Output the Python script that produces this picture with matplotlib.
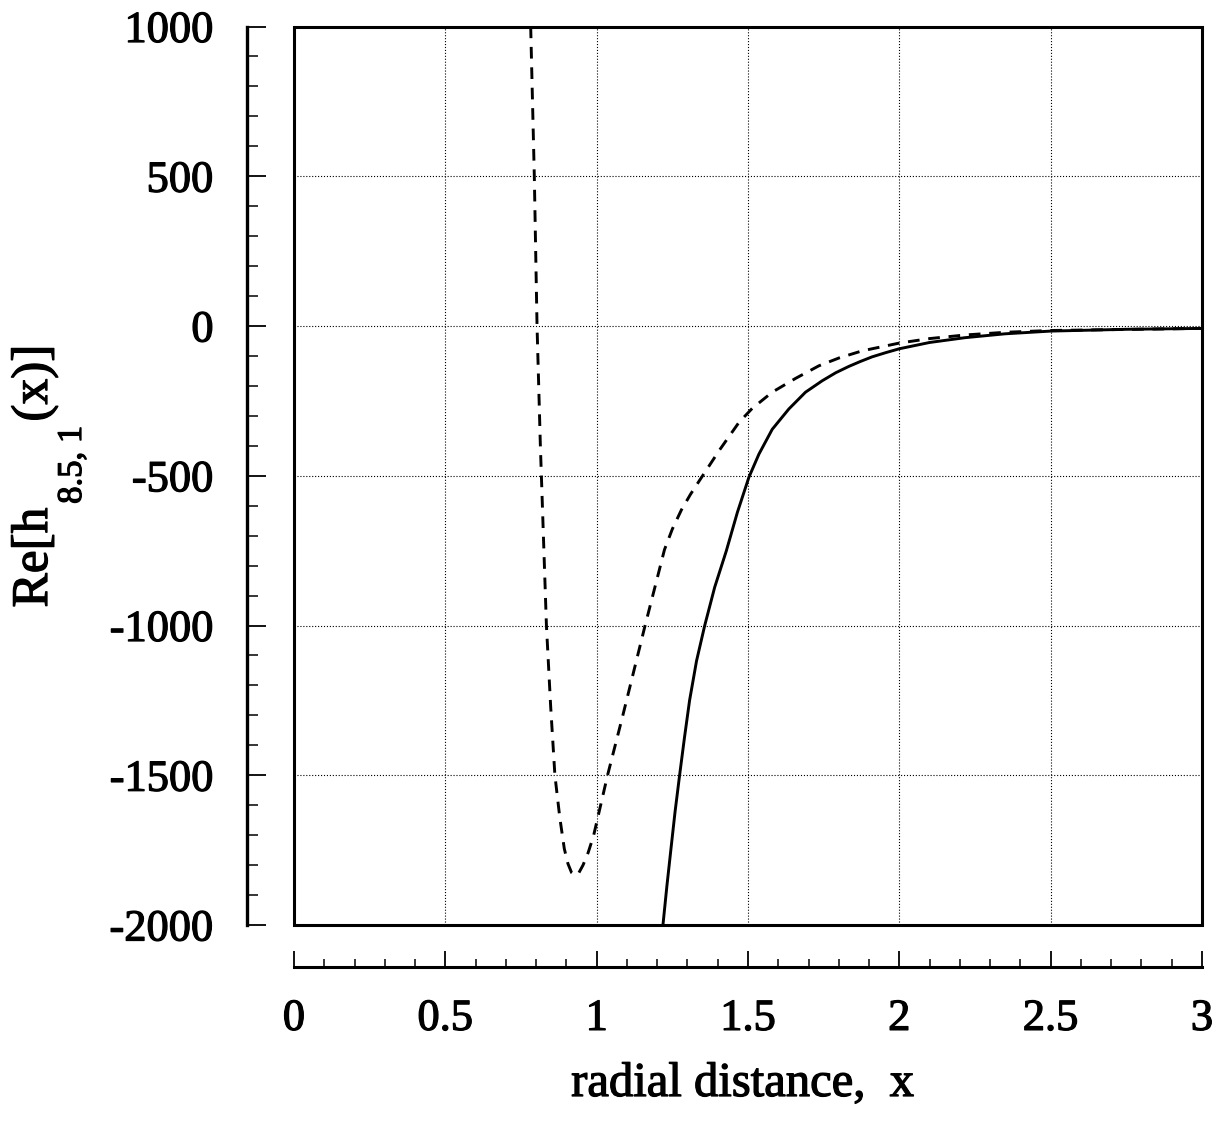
import numpy as np
import matplotlib
matplotlib.use('Agg')
import matplotlib.pyplot as plt
import matplotlib.patheffects as pe
from matplotlib.patches import Rectangle
from matplotlib.ticker import MultipleLocator

# fonts: times-like serif, regular weight thickened a little (scanned look)
plt.rc('font', family='Liberation Serif', size=32)
plt.rc('axes', unicode_minus=False)
ink = [pe.withStroke(linewidth=0.9, foreground='black')]

# solid curve
solid_x = [1.219, 1.232, 1.245, 1.259, 1.274, 1.290, 1.307, 1.330, 1.357, 1.390,
           1.428, 1.465, 1.503, 1.536, 1.580, 1.635, 1.690, 1.745, 1.790, 1.833,
           1.870, 1.910, 1.955, 2.0, 2.1, 2.217, 2.35, 2.5, 2.75, 3.0]
solid_y = [-2000, -1870, -1750, -1622, -1500, -1375, -1250, -1118, -1000, -872,
           -752, -622, -505, -428, -345, -277, -221, -183, -156, -135,
           -119, -103, -89, -76, -55, -39, -26, -17, -11, -8]

# dashed curve
dashed_x = [0.782, 0.794, 0.803, 0.814, 0.824, 0.834, 0.848, 0.862, 0.878, 0.893,
            0.905, 0.917, 0.929, 0.941, 0.955, 0.972, 0.990, 1.036, 1.086, 1.160,
            1.195, 1.224, 1.250, 1.280, 1.310, 1.339, 1.406, 1.470, 1.514, 1.580,
            1.657, 1.734, 1.800, 1.877, 2.0, 2.1, 2.217, 2.35, 2.5, 3.0]
dashed_y = [1000, 500, 0, -400, -700, -1000, -1270, -1500, -1640, -1745,
            -1795, -1825, -1834, -1826, -1800, -1758, -1701, -1500, -1302, -1000,
            -862, -747, -678, -614, -562, -517, -414, -322, -275, -221,
            -175, -133, -107, -83, -57, -42, -30, -21, -15, -8]

xticks = [0, 0.5, 1, 1.5, 2, 2.5, 3]
xtick_labels = ['0', '0.5', '1', '1.5', '2', '2.5', '3']
yticks = [-2000, -1500, -1000, -500, 0, 500, 1000]
ytick_labels = ['-2000', '-1500', '-1000', '-500', '0', '500', '1000']

W, H = 1218, 1130
fig = plt.figure(figsize=(W / 100, H / 100), dpi=100)
ax = fig.add_axes([294 / W, 1 - 925 / H, (1202 - 294) / W, (925 - 26.5) / H])

ax.plot(solid_x, solid_y, color='black', lw=2.1)
ax.plot(dashed_x, dashed_y, color='black', lw=2.1, dashes=(4, 3))

ax.set_xlim(0, 3)
ax.set_ylim(-2000, 1000)

# grid
ax.set_xticks(xticks)
ax.set_xticklabels(xtick_labels)
ax.set_yticks(yticks)
ax.set_yticklabels(ytick_labels)
ax.xaxis.set_minor_locator(MultipleLocator(0.1))
ax.yaxis.set_minor_locator(MultipleLocator(100))
ax.grid(True, which='major', color='black', linestyle=':', linewidth=0.8)

# detached axis lines
ax.spines['top'].set_visible(False)
ax.spines['right'].set_visible(False)
ax.spines['left'].set_position(('outward', 33.8))
ax.spines['bottom'].set_position(('outward', 30.2))
ax.spines['left'].set_linewidth(2.4)
ax.spines['bottom'].set_linewidth(2.2)

ax.tick_params(axis='y', which='major', direction='in', length=13.7, width=1.3, pad=24)
ax.tick_params(axis='y', which='minor', direction='in', length=8, width=1.1)
ax.tick_params(axis='x', which='major', direction='in', length=11.5, width=1.3, pad=23)
ax.tick_params(axis='x', which='minor', direction='in', length=5.8, width=1.1)

# plot frame
ax.add_patch(Rectangle((0, 0), 1, 1, transform=ax.transAxes, fill=False,
                       edgecolor='black', linewidth=2.2, clip_on=False, zorder=5))

fig.text(743 / W, 1 - 1096 / H, 'radial distance,  x', ha='center', va='baseline',
         fontsize=35, path_effects=ink)

# y label built from pieces so the subscript can sit well below the baseline
renderer = fig.canvas.get_renderer()
pieces = [('Re[h', 37, 47), ('8.5, 1', 25, 81), ('(x)]', 37, 47)]
gap = 4
lengths = []
for s, size, _ in pieces:
    t = fig.text(0, 0, s, fontsize=size)
    lengths.append(t.get_window_extent(renderer).width)
    t.remove()
total = sum(lengths) + gap * (len(pieces) - 1)
y_pos = 476 + total / 2
for (s, size, base_x), length in zip(pieces, lengths):
    fig.text(base_x / W, 1 - y_pos / H, s, fontsize=size, rotation=90,
             rotation_mode='anchor', ha='left', va='baseline', path_effects=ink)
    y_pos -= length + gap

# tick labels exist for sure after a draw
fig.canvas.draw()
for tick in ax.xaxis.get_major_ticks() + ax.yaxis.get_major_ticks():
    tick.label1.set_path_effects(ink)

fig.savefig('out.png', dpi=100)
